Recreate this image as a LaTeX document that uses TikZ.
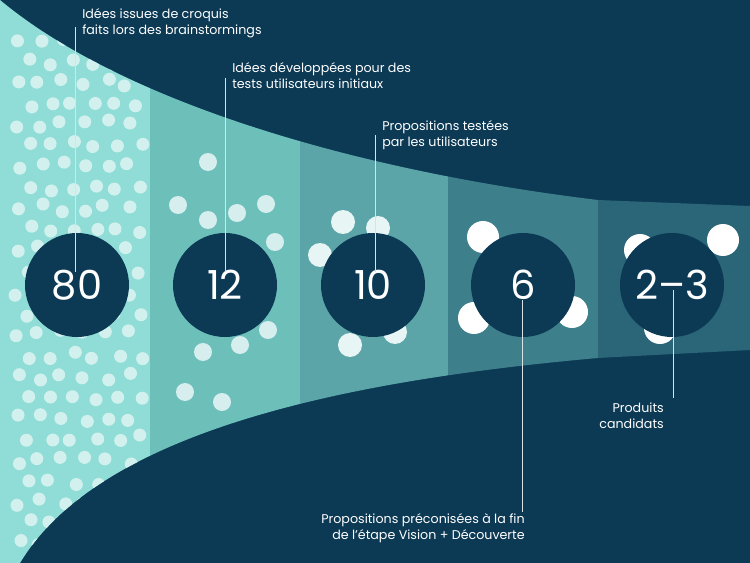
\documentclass[tikz,border=0pt]{standalone}
\usepackage{fontspec}
\setmainfont{Poppins}
\begin{document}
\begin{tikzpicture}[x=0.75pt,y=-0.75pt,
  num/.style={circle,fill=navy,minimum size=78pt,text=white,font=\fontsize{30}{30}\selectfont},
  lbl/.style={text=white,font=\fontsize{9.5}{12}\selectfont,align=left,inner sep=0pt},
  lead/.style={draw=white!85!navy,line width=0.6pt}]
\definecolor{navy}{HTML}{0C3A55}
\definecolor{c1}{HTML}{8FDDD6}\definecolor{c2}{HTML}{6DBFBA}\definecolor{c3}{HTML}{5BA5A8}
\definecolor{c4}{HTML}{3E7F8C}\definecolor{c5}{HTML}{2A6578}
\definecolor{d1}{HTML}{D2F1EE}\definecolor{d2}{HTML}{D6EFEE}
\fill[navy] (0,0) rectangle (750,563);
\useasboundingbox (0,0) rectangle (750,563);
\begin{scope}
\clip (0,0) .. controls (120,100) and (350,170) .. (598,200) -- (750,206) -- (750,350)
  -- (598,358) .. controls (350,380) and (100,430) .. (20,563) -- (0,563) -- cycle;
\fill[c1] (0,0) rectangle (150,563);
\fill[c2] (150,0) rectangle (300,563);
\fill[c3] (300,0) rectangle (448,563);
\fill[c4] (448,0) rectangle (598,563);
\fill[c5] (598,0) rectangle (750,563);
\pgfmathsetseed{7}
\foreach \i in {0,...,5}{
  \foreach \j in {0,...,24}{
    \pgfmathsetmacro{\xx}{18+\i*22+mod(\j,2)*11+rand*4}
    \pgfmathsetmacro{\yy}{40+\j*21+rand*4}
    \fill[d1] (\xx,\yy) circle (6.5);
  }}
\foreach \p in {(208,162),(178,205),(208,220),(237,213),(266,204),(275,242),(268,330),(240,345),(203,352),(185,392),(222,402)}
  \fill[d2] \p circle (9);
\foreach \p in {(343,222),(378,228),(320,255),(350,345),(395,332)}
  \fill[d2!60!white] \p circle (12);
\foreach \p in {(483,237),(474,318),(572,312)}
  \fill[white] \p circle (16);
\foreach \p in {(640,250),(723,240),(660,328)}
  \fill[white] \p circle (16);
\end{scope}
\node[num] (n1) at (77,285) {80};
\node[num] (n2) at (225,285) {12};
\node[num] (n3) at (373,285) {10};
\node[num] (n4) at (523,285) {6};
\node[num] (n5) at (672,285) {2–3};
\node[lbl,anchor=north west] (t1) at (82,8) {Idées issues de croquis\\faits lors des brainstormings};
\node[lbl,anchor=north west] (t2) at (232,62) {Idées développées pour des\\tests utilisateurs initiaux};
\node[lbl,anchor=north west] (t3) at (382,120) {Propositions testées\\par les utilisateurs};
\node[lbl,anchor=south,align=right] (t4) at (423,543) {Propositions préconisées à la fin\\de l’étape Vision + Découverte};
\node[lbl,anchor=north east,align=right] (t5) at (664,403) {Produits\\candidats};
\coordinate (a1) at (75,27); \coordinate (b1) at (75,272);
\coordinate (a2) at (225,78); \coordinate (b2) at (225,272);
\coordinate (a3) at (375,135); \coordinate (b3) at (375,272);
\draw[lead] (a1) -- (b1); \draw[lead] (a2) -- (b2); \draw[lead] (a3) -- (b3);
\coordinate (a4) at (522,300); \coordinate (b4) at (522,512);
\coordinate (a5) at (673,290); \coordinate (b5) at (673,398);
\draw[lead] (a4) -- (b4); \draw[lead] (a5) -- (b5);
\end{tikzpicture}
\end{document}
